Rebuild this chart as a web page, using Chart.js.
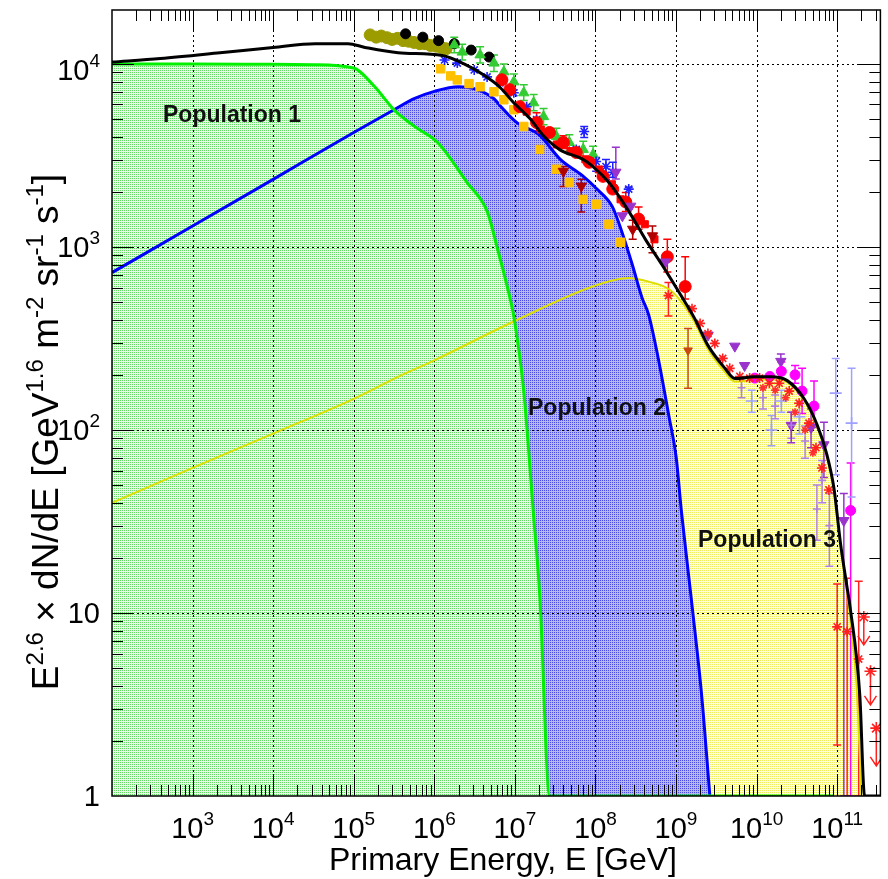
<!DOCTYPE html>
<html>
<head>
<meta charset="utf-8">
<script src="https://cdn.jsdelivr.net/npm/chart.js@4.4.0/dist/chart.umd.min.js"></script>
<style>
  html, body { margin: 0; padding: 0; background: #fff; }
</style>
</head>
<body>
<canvas id="spectrumChart" width="888" height="879"></canvas>
<script>
// axis ranges
const xMin = 100, xMax = 3.44e11;
const yMin = 1, yMax = 1.97e4;

// tick labels
const xTickValues = [1e3, 1e4, 1e5, 1e6, 1e7, 1e8, 1e9, 1e10, 1e11];
const xTickSups = ['3', '4', '5', '6', '7', '8', '9', '10', '11'];
const yTickValues = [1, 10, 100, 1000, 10000];
const yTickBase = ['1', '10', '10', '10', '10'];
const yTickSups = ['', '', '2', '3', '4'];

// model curves
const energyPop1 = [1e2, 1e3, 1e4, 3.16e4, 1e5, 1.78e5, 3.16e5, 5.62e5, 1.1e6, 2.57e6, 4.57e6, 6.0e6, 8.7e6, 9.8e6, 1.29e7, 1.7e7, 2.04e7, 2.7e7, 9.1e10];
const fluxPop1 = [10000, 10000, 9950, 9900, 9500, 7590, 5620, 4570, 3720, 2240, 1550, 1000, 525, 407, 162, 34.7, 12.3, 1, 1];

const energyPop2 = [1e2, 1e3, 1e4, 1e5, 3.16e5, 5.62e5, 1e6, 2e6, 3.39e6, 5.5e6, 6.6e6, 1.05e7, 2.04e7, 3.63e7, 6.9e7, 1.02e8, 1.62e8, 2.14e8, 2.88e8, 3.8e8, 4.57e8, 6.03e8, 8.13e8, 1e9, 1.17e9, 1.58e9, 2.09e9, 2.63e9];
const fluxPop2 = [724, 1300, 2340, 4220, 5620, 6460, 7080, 7500, 7240, 6450, 5890, 4790, 4070, 3020, 2450, 2090, 1660, 1200, 794, 525, 427, 245, 120, 72, 35.5, 11, 3.47, 1];

const energyPop3 = [1e2, 1e3, 1e4, 1e5, 3.55e5, 1e6, 9.5e6, 1.02e8, 2.57e8, 4.57e8, 8.13e8, 1.17e9, 1.7e9, 2.51e9, 3.98e9, 5.37e9, 9.33e9, 1.51e10, 2.4e10, 3.89e10, 5.62e10, 7.41e10, 9.12e10, 1.1e11, 1.32e11, 1.45e11, 1.74e11, 2.0e11];
const fluxPop3 = [40, 62, 95.5, 148, 195, 240, 390, 617, 676, 646, 589, 501, 389, 275, 209, 184, 188, 191, 182, 145, 105, 72, 47, 23.4, 13.2, 9.5, 4, 1];

const energyTotal = [1e2, 3.98e2, 2.19e3, 1e4, 3.31e4, 8.51e4, 1.38e5, 3.55e5, 1.26e6, 2.34e6, 4.07e6, 6.61e6, 9.55e6, 1.55e7, 2.24e7, 3.63e7, 6.92e7, 9.33e7, 1.48e8, 2.63e8, 4.17e8, 6.76e8, 1.17e9, 1.7e9, 2.51e9, 3.98e9, 5.37e9, 9.33e9, 1.51e10, 2.4e10, 3.89e10, 5.62e10, 7.41e10, 9.12e10, 1.1e11, 1.32e11, 1.45e11, 1.91e11, 2.19e11, 3.44e11];
const fluxTotal = [10230, 10700, 11500, 12300, 12900, 12900, 12300, 11500, 11100, 10000, 8710, 7410, 6170, 5010, 4070, 3390, 3020, 2750, 2240, 1550, 1100, 794, 537, 407, 288, 219, 191, 195, 195, 186, 148, 107, 74, 48, 24, 14, 10.7, 3.55, 1, 1];

// measurements
const oliveE = [1.6e5, 1.9e5, 2.2e5, 2.6e5, 3.0e5, 3.5e5, 4.1e5, 4.8e5, 5.6e5, 6.6e5, 7.7e5, 9.0e5, 1.05e6, 1.22e6, 1.4e6];
const oliveFlux = [14400, 14000, 14200, 13900, 13600, 13800, 13400, 13300, 13100, 12900, 12900, 12600, 12500, 12300, 12100];

const blackDotE = [4.4e5, 7.2e5, 1.13e6, 1.77e6, 2.87e6, 4.78e6];
const blackDotFlux = [14600, 14000, 13400, 12900, 11900, 10900];

const greenE = [1.77e6, 2.22e6, 3.7e6, 5.5e6, 7.3e6, 9.7e6, 1.29e7, 1.71e7, 2.27e7, 3.28e7, 4.74e7, 7.05e7, 9.35e7];
const greenFlux = [12700, 11600, 11200, 10100, 9050, 7980, 6950, 6130, 5150, 4010, 3720, 3410, 3200];
const greenLo = [11500, 10500, 10100, 9100, 8200, 7200, 6300, 5550, 4650, 3620, 3360, 3080, 2890];
const greenHi = [14000, 12800, 12400, 11200, 10000, 8800, 7700, 6800, 5700, 4450, 4100, 3780, 3550];

const orangeE = [1.2e6, 1.6e6, 1.93e6, 2.7e6, 3.7e6, 5.5e6, 7.3e6, 9.7e6, 1.29e7, 2.03e7, 3.28e7, 4.74e7, 7.05e7, 1.02e8, 1.47e8, 2.06e8];
const orangeFlux = [9400, 8600, 8180, 7800, 7500, 7040, 6370, 5620, 4550, 3410, 2660, 2250, 1820, 1710, 1330, 1060];

const blueStarE = [1.34e6, 1.93e6, 3.13e6, 4.52e6, 6.53e6, 9.7e6, 1.4e7, 1.86e7, 2.69e7, 4.0e7, 5.78e7, 7.25e7, 1.02e8, 1.35e8, 1.64e8, 2.59e8];
const blueStarFlux = [10500, 10100, 9270, 8490, 7880, 6950, 5830, 4960, 4220, 3700, 3410, 4270, 2930, 2750, 2560, 2070];
const blueStarLo = [null, null, null, null, null, null, null, null, null, null, null, 3960, 2590, 2340, 2400, 1610];
const blueStarHi = [null, null, null, null, null, null, null, null, null, null, null, 4550, 3080, 3000, 2900, 2120];

const redDotE = [6.9e6, 8.65e6, 1.15e7, 1.86e7, 2.69e7, 4.0e7, 5.78e7, 8.36e7, 1.24e8, 1.64e8, 2.38e8, 3.43e8, 7.8e8, 1.3e9];
const redDotFlux = [8190, 7230, 5840, 4780, 4220, 3720, 3280, 2900, 2430, 2070, 1760, 1420, 883, 607];
const redDotLo = [null, null, null, 4300, null, 3450, null, null, null, null, 1560, 1250, 730, 520];
const redDotHi = [null, null, null, 5400, null, 4050, null, null, null, null, 1980, 1650, 1100, 883];

const redBandE = [1.4e7, 2.1e7, 3.3e7, 4.9e7, 7.5e7, 1.1e8, 1.6e8, 2.05e8, 4.1e8, 5.4e8];
const redBandFlux = [5480, 4380, 3630, 3340, 3010, 2650, 2200, 1820, 1330, 1100];

const darkRedE = [4.0e7, 6.67e7, 2.9e8, 5.1e8];
const darkRedFlux = [2590, 2150, 1250, 1150];
const darkRedLo = [2140, 1550, 1100, 930];
const darkRedHi = [2750, 2340, 1400, 1300];

const brownE = [1.41e9];
const brownFlux = [272];
const brownLo = [169];
const brownHi = [358];

const purpleE = [1.79e8, 2.16e8, 2.74e8, 7.4e8, 2.5e9, 5.37e9, 7.1e9, 2.0e10, 2.69e10, 4.74e10, 6.85e10, 1.21e11];
const purpleFlux = [2560, 1480, 1670, 828, 330, 287, 225, 237, 106, 103, 83, 32];
const purpleLo = [2350, null, null, null, null, null, null, 215, 85, 80, 55, 1];
const purpleHi = [3500, null, null, null, null, null, null, 260, 125, 130, 110, 45];

const magentaE = [9.5e9, 1.46e10, 2.03e10, 3.0e10, 3.67e10, 5.16e10, 1.47e11];
const magentaFlux = [192, 196, 209, 200, 163, 135, 36.3];
const magentaLo = [null, null, 190, 180, 123, 103, 1];
const magentaHi = [null, null, 235, 225, 217, 185, 66];

const lightBlueE = [8.7e9, 1.53e10, 2.03e10, 3.4e10, 9.6e10, 1.51e11];
const lightBlueFlux = [144, 100, 144, 118, 159, 109];
const lightBlueLo = [125, 82, 125, 95, 57, 43];
const lightBlueHi = [165, 120, 165, 140, 246, 217];

const lavenderE = [6.5e9, 1.2e10, 1.7e10, 2.7e10, 4.0e10, 5.6e10, 6.5e10, 8.0e10];
const lavenderFlux = [170, 150, 135, 106, 87, 37, 53, 30];
const lavenderLo = [150, 130, 115, 90, 70, 25, 40, 18];
const lavenderHi = [190, 170, 155, 125, 105, 50, 68, 45];

const redStarE = [8.05e8, 1.58e9, 1.99e9, 2.49e9, 3.03e9, 3.8e9, 4.64e9, 6.2e9, 8.2e9, 1.09e10, 1.44e10, 1.91e10, 2.54e10, 3.37e10, 4.47e10, 5.46e10, 6.47e10, 7.9e10, 1.0e11, 1.33e11, 1.85e11];
const redStarFlux = [542, 460, 382, 336, 297, 246, 217, 196, 192, 192, 180, 180, 163, 140, 109, 80, 62, 47, 8.4, 7.9, 5.6];
const redStarLo = [420, null, null, null, null, null, null, null, null, null, null, null, null, null, null, null, null, null, 1.9, 1, 1];
const redStarHi = [640, null, null, null, null, null, null, null, null, null, null, null, null, null, null, null, null, null, 14.4, 15.5, 14.9];

const redStar2E = [1.2e10, 1.7e10, 2.3e10, 3.0e10, 4.0e10, 5.0e10];
const redStar2Flux = [170, 165, 150, 125, 100, 75];

const upperLimitE = [2.14e11, 2.59e11, 3.06e11];
const upperLimitFlux = [9.5, 4.8, 2.35];
const upperLimitTo = [6.7, 3.15, 1.46];

const FONT = '"Liberation Sans", Arial, Helvetica, sans-serif';

function toPoints(xs, ys) {
    return xs.map((x, i) => ({ x: x, y: ys[i] }));
}

// ROOT-like stippled fill: pale base with one strong dot per 2x2 cell
function dotPattern(base, dot) {
    const c = document.createElement('canvas');
    c.width = 2;
    c.height = 2;
    const g = c.getContext('2d');
    g.fillStyle = base;
    g.fillRect(0, 0, 2, 2);
    g.fillStyle = dot;
    g.fillRect(0, 0, 1, 1);
    return g.createPattern(c, 'repeat');
}

function curve(label, xs, ys, color, width, pattern) {
    return {
        label: label,
        data: toPoints(xs, ys),
        showLine: true,
        borderColor: color,
        borderWidth: width,
        backgroundColor: pattern || color,
        fill: pattern ? 'start' : false,
        pointRadius: 0,
        cubicInterpolationMode: 'monotone'
    };
}

function markers(label, xs, ys, color, style, radius, extra) {
    return Object.assign({
        label: label,
        data: toPoints(xs, ys),
        showLine: false,
        pointStyle: style,
        pointRadius: radius,
        borderColor: color,
        backgroundColor: color,
        borderWidth: style === 'star' || style === 'cross' ? 1.6 : 1
    }, extra || {});
}

// draws "10" + superscript style labels
function drawRich(ctx, parts, x, y, align, size, supSize, supRise) {
    let w = 0;
    parts.forEach(([t, sup]) => {
        ctx.font = `${sup ? supSize : size}px ${FONT}`;
        w += ctx.measureText(t).width;
    });
    let cx = align === 'right' ? x - w : align === 'center' ? x - w / 2 : x;
    parts.forEach(([t, sup]) => {
        ctx.font = `${sup ? supSize : size}px ${FONT}`;
        ctx.fillText(t, cx, sup ? y - supRise : y);
        cx += ctx.measureText(t).width;
    });
}

const gridPlugin = {
    id: 'dottedGrid',
    beforeDatasetsDraw(chart) {
        const { ctx, chartArea: a, scales: { x, y } } = chart;
        ctx.save();
        ctx.strokeStyle = '#000';
        ctx.lineWidth = 1;
        ctx.setLineDash([2, 3]);
        xTickValues.forEach(v => {
            const px = Math.round(x.getPixelForValue(v)) + 0.5;
            ctx.beginPath();
            ctx.moveTo(px, a.top);
            ctx.lineTo(px, a.bottom);
            ctx.stroke();
        });
        yTickValues.forEach(v => {
            if (v <= yMin) return;
            const py = Math.round(y.getPixelForValue(v)) + 0.5;
            ctx.beginPath();
            ctx.moveTo(a.left, py);
            ctx.lineTo(a.right, py);
            ctx.stroke();
        });
        ctx.restore();

        // error bars, under the markers
        ctx.save();
        ctx.beginPath();
        ctx.rect(a.left, a.top, a.right - a.left, a.bottom - a.top);
        ctx.clip();
        chart.data.datasets.forEach(ds => {
            if (!ds.errLow) return;
            ctx.strokeStyle = ds.borderColor;
            ctx.lineWidth = 1.5;
            ds.data.forEach((p, j) => {
                const lo = ds.errLow[j], hi = ds.errHigh[j];
                if (lo == null || hi == null) return;
                const px = x.getPixelForValue(p.x);
                const yLo = y.getPixelForValue(lo), yHi = y.getPixelForValue(hi);
                ctx.beginPath();
                ctx.moveTo(px, yLo); ctx.lineTo(px, yHi);
                ctx.moveTo(px - 4, yLo); ctx.lineTo(px + 4, yLo);
                ctx.moveTo(px - 4, yHi); ctx.lineTo(px + 4, yHi);
                ctx.stroke();
            });
        });
        chart.data.datasets.forEach(ds => {
            if (!ds.arrowTo) return;
            ctx.strokeStyle = ds.borderColor;
            ctx.lineWidth = 1.5;
            ds.data.forEach((p, j) => {
                const px = x.getPixelForValue(p.x);
                const y0 = y.getPixelForValue(p.y), y1 = y.getPixelForValue(ds.arrowTo[j]);
                ctx.beginPath();
                ctx.moveTo(px, y0); ctx.lineTo(px, y1);
                ctx.moveTo(px - 6, y1 - 9); ctx.lineTo(px, y1); ctx.lineTo(px + 6, y1 - 9);
                ctx.stroke();
            });
        });
        ctx.restore();
    }
};

const framePlugin = {
    id: 'rootFrame',
    afterDraw(chart) {
        const { ctx, chartArea: a, scales: { x, y } } = chart;
        ctx.save();
        ctx.strokeStyle = '#000';
        ctx.lineWidth = 1;
        // tick marks on all four sides
        for (let d = 2; d <= 11; d++) {
            for (let m = 1; m <= 9; m++) {
                const v = m * Math.pow(10, d);
                if (v <= xMin || v >= xMax) continue;
                const px = Math.round(x.getPixelForValue(v)) + 0.5;
                const len = m === 1 ? 22 : 11;
                ctx.beginPath();
                ctx.moveTo(px, a.bottom); ctx.lineTo(px, a.bottom - len);
                ctx.moveTo(px, a.top); ctx.lineTo(px, a.top + len);
                ctx.stroke();
            }
        }
        for (let d = 0; d <= 4; d++) {
            for (let m = 1; m <= 9; m++) {
                const v = m * Math.pow(10, d);
                if (v <= yMin || v >= yMax) continue;
                const py = Math.round(y.getPixelForValue(v)) + 0.5;
                const len = m === 1 ? 22 : 11;
                ctx.beginPath();
                ctx.moveTo(a.left, py); ctx.lineTo(a.left + len, py);
                ctx.moveTo(a.right, py); ctx.lineTo(a.right - len, py);
                ctx.stroke();
            }
        }
        ctx.lineWidth = 1.5;
        ctx.strokeRect(a.left, a.top, a.right - a.left, a.bottom - a.top);

        ctx.fillStyle = '#000';
        ctx.textBaseline = 'alphabetic';
        ctx.textAlign = 'left';
        xTickValues.forEach((v, i) => {
            const px = x.getPixelForValue(v);
            drawRich(ctx, [['10', false], [xTickSups[i], true]], px, 838, 'center', 29, 19, 13);
        });
        yTickValues.forEach((v, i) => {
            const py = y.getPixelForValue(v) + (v >= yMax / 2 ? 16 : 10);
            const parts = [[yTickBase[i], false]];
            if (yTickSups[i]) parts.push([yTickSups[i], true]);
            drawRich(ctx, parts, 100, py, 'right', 29, 19, 13);
        });

        drawRich(ctx, [['Primary Energy, E [GeV]', false]], 503, 870, 'center', 32, 20, 0);

        ctx.save();
        ctx.translate(58, 432);
        ctx.rotate(-Math.PI / 2);
        drawRich(ctx, [['E', false], ['2.6', true], [' \u00d7 dN/dE [GeV', false], ['1.6', true], [' m', false], ['-2', true], [' sr', false], ['-1', true], [' s', false], ['-1', true], [']', false]], 0, 0, 'center', 37, 24, 15);
        ctx.restore();

        ctx.fillStyle = '#111';
        ctx.font = `bold 23px ${FONT}`;
        ctx.fillText('Population 1', 163, 122);
        ctx.fillText('Population 2', 528, 415);
        ctx.fillText('Population 3', 698, 547);
        ctx.restore();
    }
};

function drawSpectrum() {
    const ctx = document.getElementById('spectrumChart');
    const datasets = [
        curve('Total', energyTotal, fluxTotal, '#000000', 3),
        markers('Upper limits', upperLimitE, upperLimitFlux, '#ff2020', 'star', 6, { arrowTo: upperLimitTo }),
        markers('Red stars', redStarE, redStarFlux, '#ff2020', 'star', 5, { errLow: redStarLo, errHigh: redStarHi }),
        markers('Red stars 2', redStar2E, redStar2Flux, '#ff3030', 'star', 4),
        markers('Magenta', magentaE, magentaFlux, '#ff00ff', 'circle', 5, { errLow: magentaLo, errHigh: magentaHi }),
        markers('Light blue', lightBlueE, lightBlueFlux, '#9fa0ff', 'cross', 6, { errLow: lightBlueLo, errHigh: lightBlueHi }),
        markers('Lavender', lavenderE, lavenderFlux, '#b080e0', 'cross', 4, { errLow: lavenderLo, errHigh: lavenderHi }),
        markers('Purple', purpleE, purpleFlux, '#9933cc', 'triangle', 6, { rotation: 180, errLow: purpleLo, errHigh: purpleHi }),
        markers('Brown', brownE, brownFlux, '#c84a10', 'triangle', 5, { rotation: 180, errLow: brownLo, errHigh: brownHi }),
        markers('Dark red', darkRedE, darkRedFlux, '#b00000', 'triangle', 6, { rotation: 180, errLow: darkRedLo, errHigh: darkRedHi }),
        markers('Red', redDotE, redDotFlux, '#ff0000', 'circle', 6, { errLow: redDotLo, errHigh: redDotHi }),
        markers('Red band', redBandE, redBandFlux, '#ff0000', 'rect', 5),
        markers('Blue stars', blueStarE, blueStarFlux, '#2020ff', 'star', 5, { errLow: blueStarLo, errHigh: blueStarHi }),
        markers('Green', greenE, greenFlux, '#33cc33', 'triangle', 6, { errLow: greenLo, errHigh: greenHi }),
        markers('Black', blackDotE, blackDotFlux, '#000000', 'circle', 5),
        markers('Orange', orangeE, orangeFlux, '#ffc000', 'rect', 6),
        markers('Olive', oliveE, oliveFlux, '#9c9c00', 'circle', 6),
        curve('Population 1', energyPop1, fluxPop1, '#00f000', 3, dotPattern('#e4fae4', '#66dc66')),
        curve('Population 2', energyPop2, fluxPop2, '#0000ff', 3, dotPattern('#b6b6f2', '#4a4ae6')),
        curve('Population 3', energyPop3, fluxPop3, '#dede00', 2, dotPattern('#ffffd4', '#eeee60'))
    ];

    new Chart(ctx, {
        type: 'scatter',
        data: { datasets: datasets },
        options: {
            responsive: false,
            animation: false,
            layout: { padding: { left: 112, top: 10, right: 1, bottom: 83 } },
            scales: {
                x: { type: 'logarithmic', min: xMin, max: xMax, display: false },
                y: { type: 'logarithmic', min: yMin, max: yMax, display: false }
            },
            plugins: {
                legend: { display: false },
                tooltip: { enabled: false },
                filler: { drawTime: 'beforeDatasetsDraw' }
            }
        },
        plugins: [gridPlugin, framePlugin]
    });
}

document.addEventListener('DOMContentLoaded', drawSpectrum);
</script>
</body>
</html>
